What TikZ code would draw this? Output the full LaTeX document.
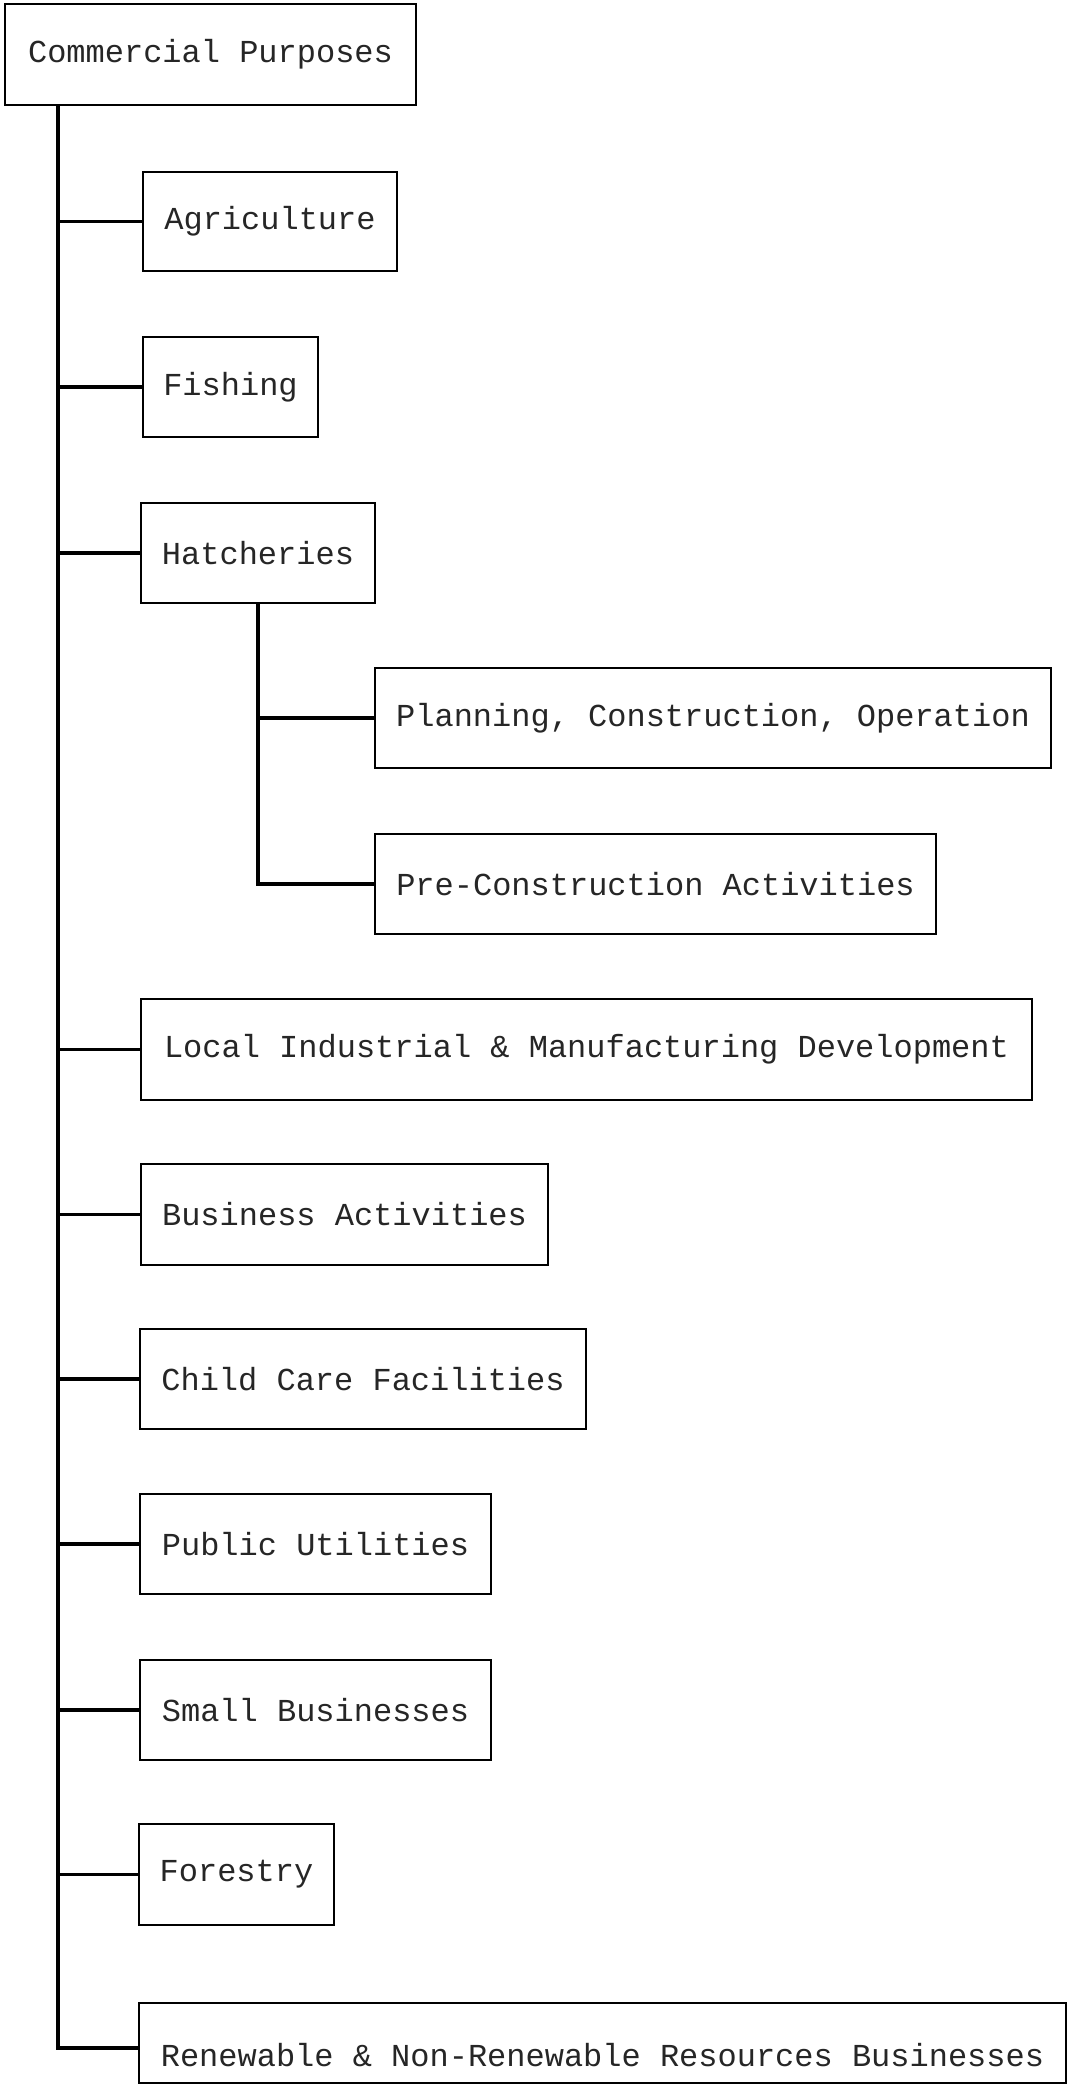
\documentclass[tikz,border=0pt]{standalone}
\usepackage{fontspec}
\setmonofont{Liberation Mono}
\begin{document}
\begin{tikzpicture}[x=0.5pt,y=-0.5pt,
  box/.style={draw=black, line width=1pt, inner sep=0pt, minimum height=50pt,
    font=\ttfamily\fontsize{16}{18}\selectfont, text=black!85},
  conn/.style={draw=black, line width=1.7pt}]
\useasboundingbox (0,0) rectangle (1070,2085);
\fill[white] (0,0) rectangle (1070,2085);
\node[box, minimum width=205.5pt, minimum height=50.5pt] (cp) at (210.5,54.5) {Commercial Purposes};
\node[box, minimum width=127pt, minimum height=49.5pt] (agri) at (270,221.5) {Agriculture};
\node[box, minimum width=87.5pt] (fish) at (230.5,387) {Fishing};
\node[box, minimum width=117pt] (hatch) at (258,553) {Hatcheries};
\node[box, minimum width=338pt] (plan) at (713,718) {Planning, Construction, Operation};
\node[box, minimum width=280.5pt] (pre) at (655.5,884) {Pre-Construction Activities};
\node[box, minimum width=445.5pt, minimum height=50.5pt] (local) at (586.5,1049.5) {Local Industrial \& Manufacturing Development};
\node[box, minimum width=203.5pt, minimum height=50.5pt] (bus) at (344.5,1214.5) {Business Activities};
\node[box, minimum width=223pt] (child) at (363,1379) {Child Care Facilities};
\node[box, minimum width=175.5pt] (pub) at (315.5,1544) {Public Utilities};
\node[box, minimum width=175.5pt] (small) at (315.5,1710) {Small Businesses};
\node[box, minimum width=97.5pt, minimum height=50.5pt] (forest) at (236.5,1874.5) {Forestry};
\node[box, minimum width=463.5pt, minimum height=40pt, text height=28pt, text depth=5pt] (renew) at (602.5,2043) {Renewable \& Non-Renewable Resources Businesses};
\coordinate (tt) at ([xshift=27pt]cp.south west);
\draw[conn] (tt) |- ([yshift=-2.5pt]renew.west);
\foreach \n in {agri,fish,hatch,local,bus,child,pub,small,forest}
  \draw[conn] (tt |- \n.west) -- (\n.west);
\draw[conn] (hatch.south) |- (pre.west);
\draw[conn] (hatch.south |- plan.west) -- (plan.west);
\end{tikzpicture}
\end{document}
